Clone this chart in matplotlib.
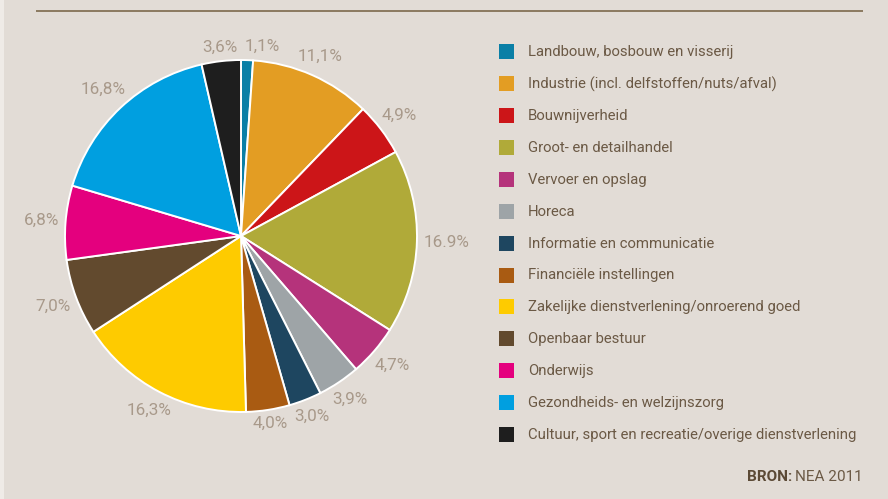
import numpy as np
import matplotlib.pyplot as plt
from matplotlib.patches import Rectangle

sectors = [
    "Landbouw, bosbouw en visserij",
    "Industrie (incl. delfstoffen/nuts/afval)",
    "Bouwnijverheid",
    "Groot- en detailhandel",
    "Vervoer en opslag",
    "Horeca",
    "Informatie en communicatie",
    "Financiële instellingen",
    "Zakelijke dienstverlening/onroerend goed",
    "Openbaar bestuur",
    "Onderwijs",
    "Gezondheids- en welzijnszorg",
    "Cultuur, sport en recreatie/overige dienstverlening",
]
shares = [1.1, 11.1, 4.9, 16.9, 4.7, 3.9, 3.0, 4.0, 16.3, 7.0, 6.8, 16.8, 3.6]
share_labels = ["1,1%", "11,1%", "4,9%", "16.9%", "4,7%", "3,9%", "3,0%",
                "4,0%", "16,3%", "7,0%", "6,8%", "16,8%", "3,6%"]
colors = ["#0a7fa6", "#e39d23", "#cc1518", "#b0aa39", "#b5337b", "#9ea4a7",
          "#1e4660", "#a95b12", "#fecb00", "#624a2e", "#e4007e", "#009fe0",
          "#1e1e1e"]

bg = "#e2dcd6"
plt.rcParams["font.family"] = ["Roboto", "DejaVu Sans"]

W, H = 888, 499
fig = plt.figure(figsize=(W / 100, H / 100), dpi=100, facecolor=bg)

# overlay in pixel coordinates for rule, legend and source line
ov = fig.add_axes([0, 0, 1, 1])
ov.set_xlim(0, W)
ov.set_ylim(H, 0)
ov.axis("off")
ov.add_patch(Rectangle((0, 0), 4, H, color="#efebe7", lw=0))
ov.plot([36, 863], [10.5, 10.5], color="#8b7a60", lw=1.4, solid_capstyle="butt")

# pie: centre (241, 236) px, radius 176 px
cx, cy, R = 241, 236, 176
half = 240
ax = fig.add_axes([(cx - half) / W, (H - cy - half) / H, 2 * half / W, 2 * half / H])

wedges, _ = ax.pie(shares, colors=colors, startangle=90, counterclock=False,
                   radius=1.0, wedgeprops=dict(edgecolor="white", linewidth=1.4))
ax.set_xlim(-half / R, half / R)
ax.set_ylim(-half / R, half / R)
ax.set_aspect("equal")
ax.axis("off")

renderer = fig.canvas.get_renderer()
for w, lab in zip(wedges, share_labels):
    mid = np.deg2rad((w.theta1 + w.theta2) / 2)
    c, s = np.cos(mid), np.sin(mid)
    txt = ax.text(0, 0, lab, va="center", fontsize=12.3, color="#a8998a",
                  clip_on=False)
    if abs(c) < 0.15:
        # thin slices at the top: labels sit either side of the vertical
        txt.set_position((np.sign(c) * 0.02, 1.08 * s))
        txt.set_ha("left" if c > 0 else "right")
    else:
        # keep the label box just clear of the rim
        bb = txt.get_window_extent(renderer)
        hw, hh = bb.width / 2 / R, bb.height / 2 / R * 0.7
        d = 1.035 + hw * abs(c) + hh * abs(s)
        txt.set_position((d * c, d * s))
        txt.set_ha("center")

# legend
y0, dy = 51.7, 31.9
for i, (name, col) in enumerate(zip(sectors, colors)):
    y = y0 + i * dy
    ov.add_patch(Rectangle((499, y - 7.5), 15, 15, color=col, lw=0))
    ov.text(528, y + 0.5, name, ha="left", va="center", fontsize=10.7,
            color="#6b5945")

t = ov.text(863, 477, "NEA 2011", ha="right", va="center", fontsize=11,
            color="#6b5945")
fig.canvas.draw()
bb = t.get_window_extent()
ov.text(863 - bb.width - 3, 477, "BRON:", ha="right", va="center", fontsize=11,
        color="#5c4a36", fontweight="bold")

fig.savefig("out.png", dpi=100, facecolor=bg)
